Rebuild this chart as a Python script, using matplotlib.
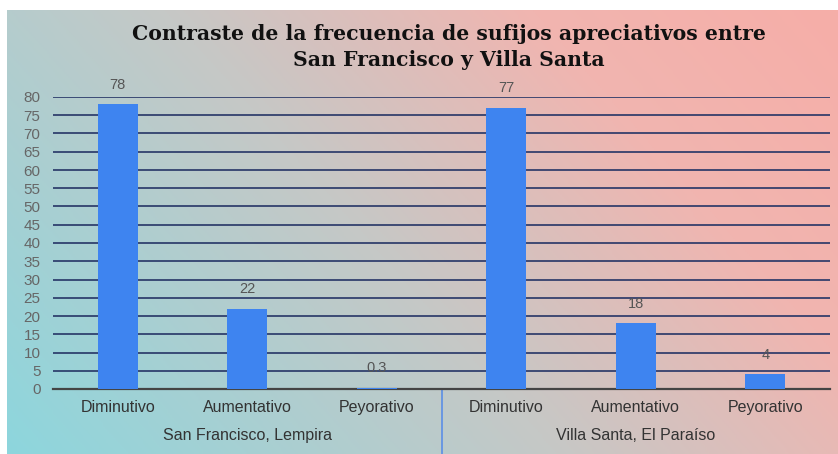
import numpy as np
import matplotlib
matplotlib.use("Agg")
import matplotlib.pyplot as plt
from matplotlib.colors import LinearSegmentedColormap
from matplotlib.lines import Line2D

# datos del gráfico
grupos = ["San Francisco, Lempira", "Villa Santa, El Paraíso"]
categorias = ["Diminutivo", "Aumentativo", "Peyorativo"]
san_francisco = [78, 22, 0.3]
villa_santa = [77, 18, 4]
etiquetas_valor = ["78", "22", "0.3", "77", "18", "4"]
yticks = list(range(0, 85, 5))

titulo = "Contraste de la frecuencia de sufijos apreciativos entre\nSan Francisco y Villa Santa"

W, H = 838, 454
fig = plt.figure(figsize=(W / 100, H / 100), dpi=100, facecolor="white")

# fondo con degradado
bg = fig.add_axes([7 / W, 0, 1 - 7 / W, 444 / H])
bg.set_axis_off()
xx, yy = np.meshgrid(np.linspace(0, 1, 400), np.linspace(0, 1, 200))
t = 0.68 * xx + 0.32 * (1 - yy)
cmap = LinearSegmentedColormap.from_list(
    "fondo", [(0, "#8dd6dd"), (0.45, "#c6c8c6"), (0.75, "#f1b5b0"), (1, "#f6aea8")])
bg.imshow(t, cmap=cmap, aspect="auto", extent=[0, 1, 0, 1], vmin=0, vmax=1)

ax = fig.add_axes([53 / W, (H - 389) / H, (830 - 53) / W, (389 - 97) / H])
ax.patch.set_alpha(0)

valores = san_francisco + villa_santa
x = np.arange(len(valores))
ax.bar(x, valores, width=0.31, color="#3e84f0", zorder=3)

for xi, v, lab in zip(x, valores, etiquetas_valor):
    ax.annotate(lab, (xi, v), xytext=(0, 9), textcoords="offset points",
                ha="center", va="bottom", fontsize=10.5, color="#555555",
                family="Liberation Sans")

ax.set_xlim(-0.5, len(valores) - 0.5)
ax.set_ylim(0, 80)
ax.set_yticks(yticks)
ax.set_yticklabels([str(v) for v in yticks], fontsize=11, color="#666666",
                   family="Liberation Sans")
ax.tick_params(axis="y", length=0, pad=9)
ax.tick_params(axis="x", length=0)
ax.set_xticks(x)
ax.set_xticklabels(categorias * 2, fontsize=11.5, color="#333333",
                   family="Liberation Sans")
ax.tick_params(axis="x", pad=8)
for yv in yticks[1:]:
    ax.axhline(yv, color="#263566", lw=1.2, zorder=1)
for s in ["top", "right", "left"]:
    ax.spines[s].set_visible(False)
ax.spines["bottom"].set_color("#444444")
ax.spines["bottom"].set_linewidth(1.6)

# etiquetas de grupo
for i, g in enumerate(grupos):
    ax.text(i * 3 + 1, -0.16, g, transform=ax.get_xaxis_transform(),
            ha="center", va="center", fontsize=11.5, color="#333333",
            family="Liberation Sans")

# separador entre grupos
ax.add_line(Line2D([2.5, 2.5], [0, -0.23], transform=ax.get_xaxis_transform(),
                   color="#5b8fe6", lw=1.2, clip_on=False))

fig.text(449 / W, 1 - 47 / H, titulo, ha="center", va="center", fontsize=14.7,
         fontweight="bold", family="DejaVu Serif", color="#111111",
         linespacing=1.35)

fig.savefig("out.png", dpi=100, facecolor="white")
